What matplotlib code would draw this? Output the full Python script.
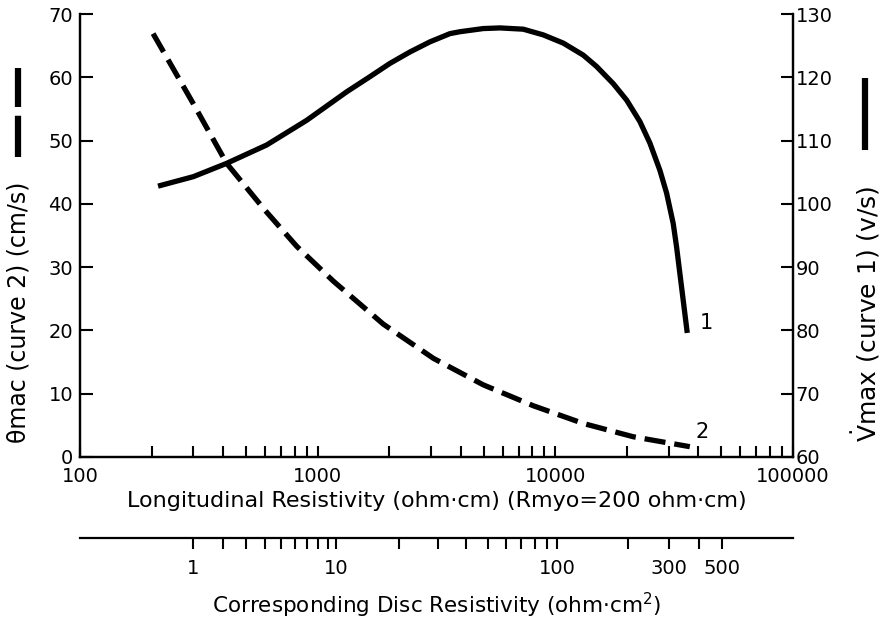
import numpy as np
import matplotlib
matplotlib.use("Agg")
import matplotlib.pyplot as plt
from matplotlib.lines import Line2D
from matplotlib.ticker import FixedLocator, NullFormatter

plt.rcParams['font.family'] = ['DejaVu Sans']
plt.rcParams['mathtext.fontset'] = 'dejavusans'

# curve 1: Vmax (right axis, v/s) vs longitudinal resistivity (ohm.cm)
r_vmax = [213, 300, 414, 610, 899, 1324, 1660, 2015, 2445, 2968, 3603, 3970,
          4976, 5848, 7329, 8895, 10800, 13107, 14920, 17520, 19950, 22690,
          25000, 27540, 29390, 31330, 32370, 34090, 35900]
vmax = [102.8, 104.3, 106.4, 109.3, 113.2, 117.7, 120.1, 122.2, 124.0, 125.6,
        126.9, 127.2, 127.7, 127.8, 127.6, 126.7, 125.4, 123.5, 121.7, 119.0,
        116.4, 113.0, 109.6, 105.3, 101.7, 96.9, 93.2, 86.4, 79.6]

# curve 2: theta mac (left axis, cm/s)
r_theta = [203, 300, 414, 600, 816, 1163, 1888, 3065, 4976, 8074, 13107, 21270, 36800]
theta = [66.9, 55.8, 46.4, 39.0, 33.3, 27.8, 21.0, 15.6, 11.4, 8.1, 5.3, 3.2, 1.63]

x_ticks = [100, 1000, 10000, 100000]
x_ticklabels = ['100', '1000', '10000', '100000']
left_ticks = [0, 10, 20, 30, 40, 50, 60, 70]
right_ticks = [60, 70, 80, 90, 100, 110, 120, 130]

# disc resistivity scale (ohm.cm2), Rlong = Rmyo + 100 * Rdisc
r_myo = 200
disc_labeled = [1, 10, 100, 300, 500]
disc_minor = [2, 3, 4, 5, 6, 7, 8, 9, 20, 30, 40, 50, 60, 70, 80, 90, 200, 400]

W, H = 881, 622
fig = plt.figure(figsize=(W / 100, H / 100), dpi=100)
ax = fig.add_axes([80 / W, 1 - 457 / H, 713 / W, 443 / H])
ax2 = ax.twinx()

ax.set_xscale('log')
ax.set_xlim(100, 100000)
ax.set_ylim(0, 70)
ax2.set_ylim(60, 130)

ax2.plot(r_vmax, vmax, color='black', lw=3.8, solid_capstyle='butt',
         solid_joinstyle='round', clip_on=False)
ax.plot(r_theta, theta, color='black', lw=3.8, dashes=(4.0, 1.7),
        dash_capstyle='butt', clip_on=False)

ax2.text(43000, 81.2, '1', fontsize=15, ha='center', va='center')
ax.text(41500, 3.9, '2', fontsize=15, ha='center', va='center')

for a in (ax, ax2):
    a.spines['top'].set_visible(False)
    for s in ('left', 'right', 'bottom'):
        a.spines[s].set_linewidth(1.6)

ax.set_xticks(x_ticks)
ax.set_xticklabels(x_ticklabels)
ax.xaxis.set_minor_formatter(NullFormatter())
ax.set_yticks(left_ticks)
ax2.set_yticks(right_ticks)
ax.tick_params(axis='x', which='both', direction='in', length=8, width=1.5,
               labelsize=14, pad=7)
ax.tick_params(axis='y', direction='in', length=9, width=1.5, labelsize=14, pad=5)
ax2.tick_params(axis='y', direction='in', length=9, width=1.5, labelsize=14, pad=2)

ax.set_xlabel('Longitudinal Resistivity (ohm\u00b7cm) (Rmyo=200 ohm\u00b7cm)',
              fontsize=16, labelpad=4)

# secondary disc resistivity axis
ax3 = fig.add_axes([80 / W, 1 - 538 / H, 713 / W, 0.001])
ax3.set_xscale('log')
ax3.set_xlim(100, 100000)
for s in ('left', 'right', 'top'):
    ax3.spines[s].set_visible(False)
ax3.spines['bottom'].set_linewidth(1.6)
ax3.set_yticks([])
ax3.xaxis.set_major_locator(FixedLocator([r_myo + 100 * d for d in disc_labeled]))
ax3.set_xticklabels([str(d) for d in disc_labeled])
ax3.xaxis.set_minor_locator(FixedLocator([r_myo + 100 * d for d in disc_minor]))
ax3.xaxis.set_minor_formatter(NullFormatter())
ax3.tick_params(axis='x', which='both', direction='out', length=8, width=1.5,
                labelsize=14, pad=7)
ax3.set_xlabel('Corresponding Disc Resistivity (ohm\u00b7cm$^2$)', fontsize=15.5,
               labelpad=9)

# y axis titles with line-style keys
fig.text(19 / W, 1 - 312 / H, '\u03b8mac (curve 2) (cm/s)', rotation=90,
         fontsize=17, ha='center', va='center')
fig.add_artist(Line2D([18 / W, 18 / W], [1 - 157 / H, 1 - 68 / H], color='black',
                      lw=4.5, dashes=(6.6, 1.4), dash_capstyle='butt',
                      transform=fig.transFigure))

fig.text(866 / W, 1 - 314 / H, r'$\dot{\mathrm{V}}$max (curve 1) (v/s)', rotation=90,
         fontsize=18, ha='center', va='center')
fig.add_artist(Line2D([865 / W, 865 / W], [1 - 150 / H, 1 - 78 / H], color='black',
                      lw=4.5, solid_capstyle='butt', transform=fig.transFigure))

fig.savefig('out.png', dpi=100, facecolor='white')
